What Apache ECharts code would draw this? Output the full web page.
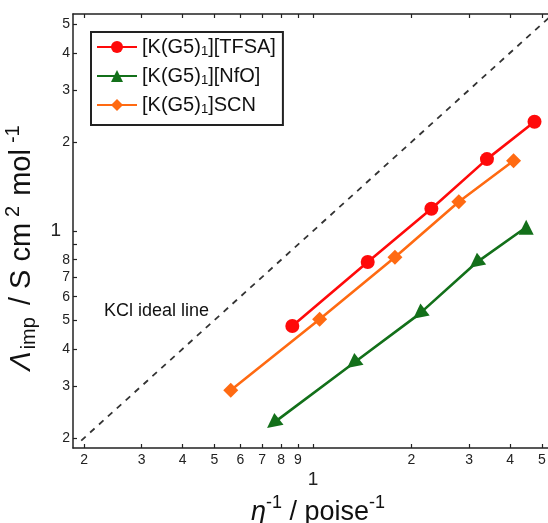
<!DOCTYPE html>
<html>
<head>
<meta charset="utf-8">
<script src="https://cdn.jsdelivr.net/npm/echarts@6/dist/echarts.min.js"></script>
<style>
html,body{margin:0;padding:0;background:#fff;}
#chart{width:548px;height:523px;}
</style>
</head>
<body>
<div id="chart"></div>
<script>
// ---- data ----
const tfsaX = [0.865, 1.47, 2.30, 3.40, 4.75];
const tfsaY = [0.478, 0.786, 1.19, 1.75, 2.34];
const nfoX = [0.755, 1.325, 2.11, 3.14, 4.48];
const nfoY = [0.224, 0.357, 0.524, 0.779, 1.03];
const scnX = [0.561, 1.048, 1.78, 2.79, 4.10];
const scnY = [0.290, 0.504, 0.815, 1.256, 1.728];
const kclX = [0.196, 5.5];
const kclY = [0.196, 5.5];
const seriesNames = ['[K(G5)1][TFSA]', '[K(G5)1][NfO]', '[K(G5)1]SCN'];
const xTickValues = [0.2, 0.3, 0.4, 0.5, 0.6, 0.7, 0.8, 0.9, 1, 2, 3, 4, 5];
const xTickLabels = ['2', '3', '4', '5', '6', '7', '8', '9', '1', '2', '3', '4', '5'];
const yTickValues = [0.2, 0.3, 0.4, 0.5, 0.6, 0.7, 0.8, 0.9, 1, 2, 3, 4, 5];
const yTickLabels = ['2', '3', '4', '5', '6', '7', '8', '', '1', '2', '3', '4', '5'];
const axisMin = 0.185, axisMax = 5.41;

const zip = (xs, ys) => xs.map((x, i) => [x, ys[i]]);
const FONT = "'Liberation Sans', Arial, sans-serif";
const AX = '#222';

function labelFor(vals, labels, v) {
  for (let i = 0; i < vals.length; i++) if (Math.abs(vals[i] - v) < 1e-6) return labels[i];
  return '';
}

const chart = echarts.init(document.getElementById('chart'), null, {renderer: 'canvas'});
chart.setOption({
  animation: false,
  backgroundColor: '#fff',
  grid: {left: 73, top: 14, width: 480, height: 434, containLabel: false, outerBoundsMode: 'none'},
  xAxis: [{
    type: 'log', min: axisMin, max: axisMax,
    name: '{it|η}{sup|-1}{n| / poise}{sup|-1}',
    nameLocation: 'middle', nameGap: 44,
    nameTextStyle: {
      fontFamily: FONT, color: '#111', padding: [0, 0, 0, 10],
      rich: {
        it: {fontSize: 27, fontStyle: 'italic', fontFamily: FONT, color: '#111', verticalAlign: 'bottom', lineHeight: 32},
        n: {fontSize: 27, fontFamily: FONT, color: '#111', verticalAlign: 'bottom', lineHeight: 32},
        sup: {fontSize: 18, fontFamily: FONT, color: '#111', verticalAlign: 'top', lineHeight: 32}
      }
    },
    axisLine: {lineStyle: {color: AX, width: 1.5}},
    axisTick: {inside: true, length: 4, customValues: xTickValues, lineStyle: {color: AX, width: 1.2}},
    axisLabel: {
      customValues: xTickValues, margin: 5, fontFamily: FONT, fontSize: 14, color: '#222',
      formatter: v => {
        const s = labelFor(xTickValues, xTickLabels, v);
        return Math.abs(v - 1) < 1e-6 ? '{b|' + s + '}' : '{s|' + s + '}';
      },
      rich: {
        s: {fontFamily: FONT, fontSize: 14, color: '#222'},
        b: {fontFamily: FONT, fontSize: 19, color: '#222', padding: [17, 0, 0, 0]}
      }
    },
    splitLine: {show: false}
  }, {
    type: 'log', min: axisMin, max: axisMax, position: 'top',
    axisLine: {lineStyle: {color: AX, width: 1.5}},
    axisTick: {inside: true, length: 4, customValues: xTickValues, lineStyle: {color: AX, width: 1.2}},
    axisLabel: {show: false},
    splitLine: {show: false}
  }],
  yAxis: [{
    type: 'log', min: axisMin, max: axisMax,
    name: '{it|Λ}{sub|imp}{n| / S cm}{sup|2}{n|mol}{sup|-1}',
    nameLocation: 'middle', nameGap: 32, nameRotate: 90,
    nameTextStyle: {
      fontFamily: FONT, color: '#111', padding: [0, 24, 0, 0],
      rich: {
        it: {fontSize: 29, fontStyle: 'italic', fontFamily: FONT, color: '#111', verticalAlign: 'middle', lineHeight: 36},
        n: {fontSize: 29, fontFamily: FONT, color: '#111', verticalAlign: 'middle', lineHeight: 36},
        sub: {fontSize: 20, fontFamily: FONT, color: '#111', verticalAlign: 'bottom', lineHeight: 36, padding: [0, 4, 0, 2]},
        sup: {fontSize: 20, fontFamily: FONT, color: '#111', verticalAlign: 'top', lineHeight: 36, padding: [0, 10, 0, 6]}
      }
    },
    axisLine: {lineStyle: {color: AX, width: 1.5}},
    axisTick: {inside: true, length: 4, customValues: yTickValues, lineStyle: {color: AX, width: 1.2}},
    axisLabel: {
      customValues: yTickValues, margin: 3, fontFamily: FONT, fontSize: 14, color: '#222',
      formatter: v => {
        const s = labelFor(yTickValues, yTickLabels, v);
        return Math.abs(v - 1) < 1e-6 ? '{b|' + s + '}' : '{s|' + s + '}';
      },
      rich: {
        s: {fontFamily: FONT, fontSize: 14, color: '#222'},
        b: {fontFamily: FONT, fontSize: 19, color: '#222', padding: [0, 9, 0, 0]}
      }
    },
    splitLine: {show: false}
  }],
  legend: {
    orient: 'vertical', left: 91, top: 32,
    data: seriesNames,
    itemWidth: 40, itemHeight: 15, itemGap: 7,
    padding: [4, 7, 9, 5],
    borderColor: '#222', borderWidth: 2, backgroundColor: '#fff',
    formatter: name => name.replace('(G5)1', '(G5){sub|1}'),
    textStyle: {
      fontFamily: FONT, fontSize: 20, color: '#111', lineHeight: 22,
      rich: {sub: {fontFamily: FONT, fontSize: 13, color: '#111', verticalAlign: 'bottom', lineHeight: 22, padding: [8, 0, 0, 0]}}
    }
  },
  graphic: [{
    type: 'text', left: 104, top: 302,
    style: {text: 'KCl ideal line', font: '18px ' + FONT, fill: '#111'}
  }],
  series: [{
    name: 'KCl', type: 'line', data: zip(kclX, kclY), symbol: 'none', silent: true,
    lineStyle: {color: '#333', width: 1.8, type: [6, 6]}
  }, {
    name: seriesNames[0], type: 'line', data: zip(tfsaX, tfsaY),
    symbol: 'circle', symbolSize: 14, color: '#ff0a0a',
    lineStyle: {color: '#ff0a0a', width: 2.6}, itemStyle: {color: '#ff0a0a'}
  }, {
    name: seriesNames[1], type: 'line', data: zip(nfoX, nfoY),
    symbol: 'triangle', symbolSize: 15, color: '#13701a',
    symbolRotate: (v, p) => (p && p.dataIndex < 4) ? 128 : 0,
    lineStyle: {color: '#13701a', width: 2.6}, itemStyle: {color: '#13701a'}
  }, {
    name: seriesNames[2], type: 'line', data: zip(scnX, scnY),
    symbol: 'diamond', symbolSize: 15, color: '#ff6a12',
    lineStyle: {color: '#ff6a12', width: 2.6}, itemStyle: {color: '#ff6a12'}
  }]
});
</script>
</body>
</html>
